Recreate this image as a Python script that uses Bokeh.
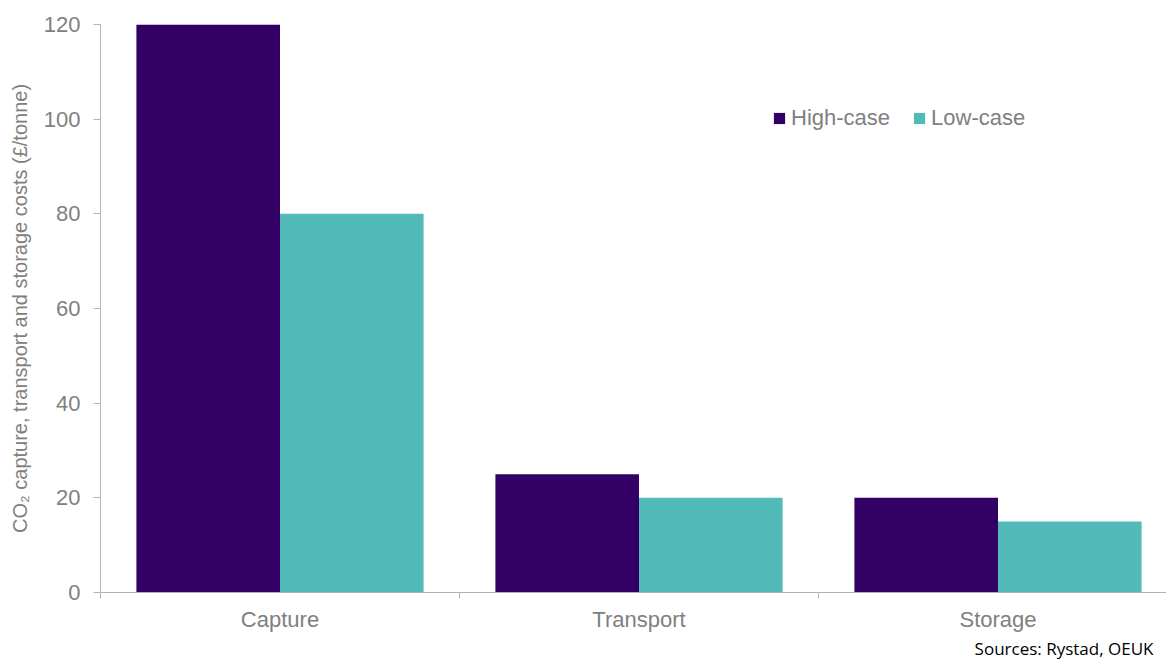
import numpy as np
from bokeh.plotting import figure
from bokeh.models import (Range1d, FixedTicker, Legend, LegendItem, Title,
                          ColumnDataSource)
from bokeh.embed import file_html
from bokeh.resources import INLINE

categories = ["Capture", "Transport", "Storage"]
high_case = [120, 25, 20]
low_case = [80, 20, 15]
y_ticks = [0, 20, 40, 60, 80, 100, 120]
source_note = "Sources: Rystad, OEUK"
y_label = "CO\u2082 capture, transport and storage costs (\u00a3/tonne)"

HIGH_COLOR = "#330066"
LOW_COLOR = "#52BBB9"
GREY = "#808080"
AXIS_GREY = "#b3b3b3"
FONT = "Liberation Sans"

idx = np.arange(len(categories))
bar_w = 0.4
src = ColumnDataSource(dict(
    x_high=idx + 0.5 - bar_w / 2,
    x_low=idx + 0.5 + bar_w / 2,
    high=high_case,
    low=low_case,
))

frame_w = 1066
cat_px = 359
p = figure(width=1166, height=659, output_backend="svg", toolbar_location=None,
           x_range=Range1d(0, frame_w / cat_px), y_range=Range1d(0, 120),
           min_border_left=100, min_border_right=0, min_border_top=24,
           min_border_bottom=65)
p.outline_line_color = None
p.xgrid.visible = False
p.ygrid.visible = False

r_high = p.vbar(x="x_high", top="high", width=bar_w, bottom=0, source=src,
                fill_color=HIGH_COLOR, line_color=None)
r_low = p.vbar(x="x_low", top="low", width=bar_w, bottom=0, source=src,
               fill_color=LOW_COLOR, line_color=None)

# y axis
p.yaxis.ticker = FixedTicker(ticks=y_ticks, minor_ticks=[])
p.yaxis.axis_line_color = AXIS_GREY
p.yaxis.major_tick_line_color = AXIS_GREY
p.yaxis.major_tick_out = 7
p.yaxis.major_tick_in = 0
p.yaxis.minor_tick_line_color = None
p.yaxis.major_label_text_font = FONT
p.yaxis.major_label_text_font_size = "22px"
p.yaxis.major_label_text_color = GREY
p.yaxis.major_label_standoff = 13
p.yaxis.axis_label = y_label
p.yaxis.axis_label_text_font = FONT
p.yaxis.axis_label_text_font_size = "20px"
p.yaxis.axis_label_text_font_style = "normal"
p.yaxis.axis_label_text_color = GREY
p.yaxis.axis_label_standoff = 10

# x axis
centers = [float(i + 0.5) for i in idx]
bounds = [float(i) for i in range(len(categories) + 1)]
p.xaxis.ticker = FixedTicker(ticks=centers, minor_ticks=bounds)
p.xaxis.major_label_overrides = {c: name for c, name in zip(centers, categories)}
p.xaxis.axis_line_color = AXIS_GREY
p.xaxis.major_tick_line_color = None
p.xaxis.minor_tick_line_color = AXIS_GREY
p.xaxis.minor_tick_out = 6
p.xaxis.minor_tick_in = 0
p.xaxis.major_label_text_font = FONT
p.xaxis.major_label_text_font_size = "22px"
p.xaxis.major_label_text_color = GREY
p.xaxis.major_label_standoff = 8

legend = Legend(items=[LegendItem(label="High-case", renderers=[r_high]),
                       LegendItem(label="Low-case", renderers=[r_low])],
                orientation="horizontal", location=(672, 461),
                border_line_color=None, background_fill_alpha=0,
                label_text_font=FONT, label_text_font_size="22px",
                label_text_color=GREY, glyph_width=14, glyph_height=14,
                spacing=22, label_standoff=5, padding=0, margin=0)
p.add_layout(legend)

note = Title(text=source_note, align="right", text_font="Open Sans",
             text_font_size="17px", text_font_style="normal",
             text_color="black", offset=13, standoff=0)
p.add_layout(note, "below")

open("out.html", "w").write(file_html(p, INLINE))
